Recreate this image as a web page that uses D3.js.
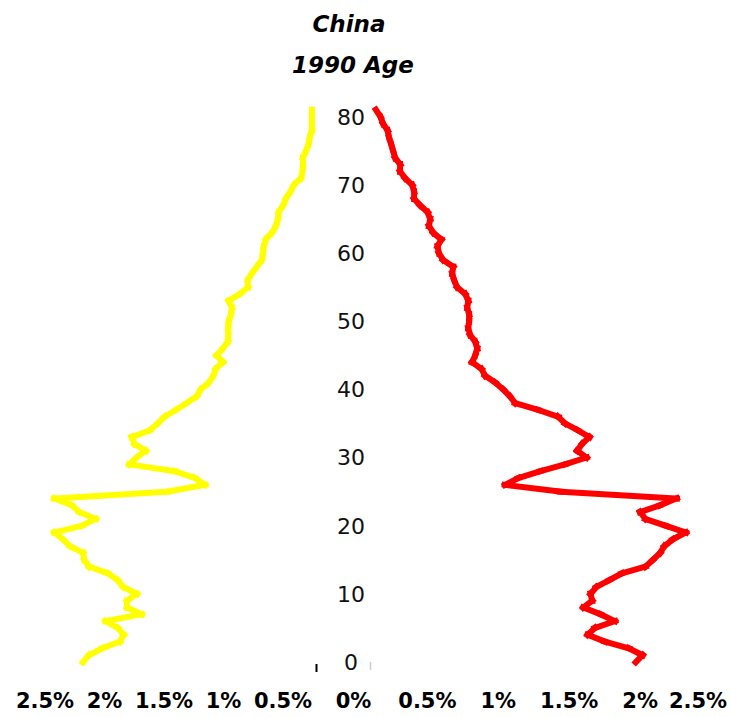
<!DOCTYPE html>
<meta charset="utf-8">
<style>
  body { margin: 0; background: #fff; }
  .title { font-family: "DejaVu Sans", sans-serif; font-weight: bold; font-style: italic; font-size: 23px; fill: #000; }
  .age { font-family: "DejaVu Sans", sans-serif; font-size: 22px; fill: #111; }
  .pct { font-family: "DejaVu Sans", sans-serif; font-weight: bold; font-size: 21px; fill: #000; }
</style>
<body>
<svg id="chart"></svg>
<script src="https://cdn.jsdelivr.net/npm/d3@7"></script>
<script>
  var width = 731,
    height = 717;

  // share of population by single year of age, 0 .. 81
  var ages = d3.range(0, 82);

  var leftShare = [2.18, 2.13, 2.02, 1.87, 1.84, 1.89, 1.99, 1.69, 1.81, 1.81,
    1.73, 1.84, 1.89, 1.97, 2.13, 2.17, 2.18, 2.29, 2.35, 2.42,
    2.19, 2.075, 2.21, 2.277, 2.42, 1.47, 1.157, 1.24, 1.41, 1.79,
    1.73, 1.654, 1.747, 1.77, 1.62, 1.553, 1.494, 1.40, 1.31, 1.225,
    1.19, 1.124, 1.086, 1.065, 1.006, 1.056, 1.006, 0.964, 0.96, 0.96,
    0.955, 0.938, 0.93, 0.955, 0.863, 0.795, 0.795, 0.762, 0.72, 0.678,
    0.669, 0.661, 0.644, 0.593, 0.56, 0.543, 0.535, 0.50, 0.476, 0.438,
    0.408, 0.35, 0.337, 0.332, 0.332, 0.307, 0.285, 0.274, 0.258, 0.257,
    0.257, 0.257];

  var rightShare = [2.07, 2.115, 2.02, 1.85, 1.73, 1.78, 1.92, 1.82, 1.70, 1.76,
    1.75, 1.79, 1.88, 1.97, 2.136, 2.19, 2.24, 2.27, 2.33, 2.42,
    2.28, 2.136, 2.10, 2.24, 2.355, 1.536, 1.148, 1.24, 1.395, 1.57,
    1.72, 1.656, 1.69, 1.74, 1.66, 1.57, 1.52, 1.38, 1.218, 1.18,
    1.133, 1.077, 1.006, 0.98, 0.915, 0.936, 0.95, 0.936, 0.90, 0.887,
    0.893, 0.893, 0.88, 0.887, 0.865, 0.809, 0.788, 0.774, 0.78, 0.71,
    0.68, 0.671, 0.696, 0.64, 0.61, 0.618, 0.60, 0.547, 0.505, 0.505,
    0.491, 0.441, 0.406, 0.406, 0.371, 0.357, 0.343, 0.328, 0.318, 0.286,
    0.268, 0.237];

  var ageTicks = [0, 10, 20, 30, 40, 50, 60, 70, 80];
  var pctTicks = [0.5, 1, 1.5, 2, 2.5];

  var svg = d3.select("#chart")
    .attr("width", width)
    .attr("height", height);

  var y = d3.scaleLinear().domain([0, 81]).range([662, 110]);
  var xLeft = d3.scaleLinear().domain([0, 2.5]).range([342.5, 45]);
  var xRight = d3.scaleLinear().domain([0, 2.5]).range([342.5, 697]);

  // titles
  svg.append("text").attr("class", "title")
    .attr("x", 349).attr("y", 32).attr("text-anchor", "middle")
    .text("China");
  svg.append("text").attr("class", "title")
    .attr("x", 353).attr("y", 73).attr("text-anchor", "middle")
    .text("1990 Age");

  // age labels down the middle
  svg.append("g").selectAll("text")
    .data(ageTicks)
    .enter().append("text")
    .attr("class", "age")
    .attr("x", 351)
    .attr("y", function (d) { return y(d); })
    .attr("dy", "0.36em")
    .attr("text-anchor", "middle")
    .text(function (d) { return d; });

  // small axis stubs near the base
  svg.append("line").attr("x1", 316.5).attr("x2", 316.5).attr("y1", 664).attr("y2", 672)
    .attr("stroke", "#000").attr("stroke-width", 2);
  svg.append("line").attr("x1", 370.5).attr("x2", 370.5).attr("y1", 662).attr("y2", 670)
    .attr("stroke", "#ccc").attr("stroke-width", 1.5);

  // percentage labels along the bottom
  var pctLabels = pctTicks.slice().reverse().map(function (v) { return { v: v, x: xLeft(v) }; })
    .concat([{ v: 0, x: xLeft(0) + 11 }])
    .concat(pctTicks.map(function (v) { return { v: v, x: xRight(v) + 14 }; }));

  svg.append("g").selectAll("text")
    .data(pctLabels)
    .enter().append("text")
    .attr("class", "pct")
    .attr("x", function (d) { return Math.min(d.x, 698); })
    .attr("y", 708)
    .attr("text-anchor", "middle")
    .text(function (d) { return d.v + "%"; });

  // each segment drawn on its own and run a little past its ends,
  // which gives the crossed look at sharp turns
  function drawSeries(values, x, colour) {
    var pts = ages.map(function (a, i) { return [x(values[i]), y(a)]; });
    var ext = 3.5;
    var segs = d3.pairs(pts).map(function (p) {
      var dx = p[1][0] - p[0][0], dy = p[1][1] - p[0][1];
      var len = Math.sqrt(dx * dx + dy * dy) || 1;
      var ux = dx / len * ext, uy = dy / len * ext;
      return [[p[0][0] - ux, p[0][1] - uy], [p[1][0] + ux, p[1][1] + uy]];
    });
    svg.append("g").selectAll("line")
      .data(segs)
      .enter().append("line")
      .attr("x1", function (d) { return d[0][0]; })
      .attr("y1", function (d) { return d[0][1]; })
      .attr("x2", function (d) { return d[1][0]; })
      .attr("y2", function (d) { return d[1][1]; })
      .attr("stroke", colour)
      .attr("stroke-width", 6)
      .attr("stroke-linecap", "butt");
  }

  drawSeries(leftShare, xLeft, "#ffff00");
  drawSeries(rightShare, xRight, "#ff0000");
</script>
</body>
